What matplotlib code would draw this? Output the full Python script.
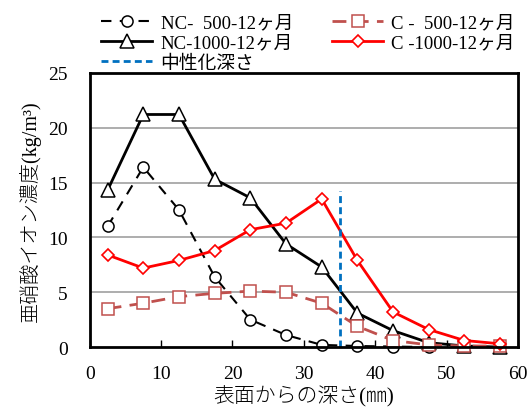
import numpy as np
import matplotlib
matplotlib.use("Agg")
import matplotlib.pyplot as plt

plt.rcParams['font.family'] = ['Liberation Serif', 'Noto Sans CJK JP']

# data (depth mm -> nitrite ion concentration kg/m3)
depth = [2.5, 7.5, 12.5, 17.5, 22.5, 27.5, 32.5, 37.5, 42.5, 47.5, 52.5, 57.5]
nc_500 = [11.0, 16.4, 12.5, 6.4, 2.5, 1.1, 0.2, 0.1, 0.05, 0.0]
nc_1000 = [14.3, 21.2, 21.2, 15.3, 13.6, 9.4, 7.3, 3.1, 1.5, 0.4, 0.1, 0.0]
c_500 = [3.5, 4.0, 4.6, 4.9, 5.1, 5.0, 4.0, 1.9, 0.6, 0.2, 0.1, 0.1]
c_1000 = [8.4, 7.2, 7.9, 8.8, 10.7, 11.3, 13.5, 7.9, 3.2, 1.6, 0.6, 0.3]
neutral_x = [35, 35]
neutral_y = [0, 14.2]

fig = plt.figure(figsize=(5.28, 4.10), dpi=100)
ax = fig.add_axes([0.170, 0.151, 0.811, 0.669])

for yv in [5, 10, 15, 20]:
    ax.axhline(yv, color='#a0a0a0', lw=1.2, zorder=0)

l1, = ax.plot(depth[:len(nc_500)], nc_500, color='black', lw=1.5, ls=(0, (5, 4)),
              marker='o', ms=8, mfc='white', mec='black', mew=1.1,
              label='NC-  500-12ヶ月', clip_on=False)
l2, = ax.plot(depth, nc_1000, color='black', lw=2, marker='^', ms=10,
              mfc='white', mec='black', mew=1.1, label='NC-1000-12ヶ月', clip_on=False)
l3, = ax.plot(depth, c_500, color='#C0504D', lw=2, ls=(0, (5, 3)), marker='s', ms=8,
              mfc='white', mec='#C0504D', mew=1.1, label='C -  500-12ヶ月', clip_on=False)
l4, = ax.plot(depth, c_1000, color='#FF0000', lw=2, marker='D', ms=6.5,
              mfc='white', mec='#FF0000', mew=1.2, label='C -1000-12ヶ月', clip_on=False)
l5, = ax.plot(neutral_x, neutral_y, color='#0070C0', lw=2, ls=(0, (2.5, 1.5)),
              label='中性化深さ')

ax.set_xlim(0, 60)
ax.set_ylim(0, 25)
ax.set_xticks(range(0, 61, 10))
ax.set_yticks(range(0, 26, 5))
ax.tick_params(axis='x', direction='in', length=5, width=1, labelsize=14, pad=13)
ax.tick_params(axis='y', length=0, labelsize=14, pad=16)
for s in ax.spines.values():
    s.set_linewidth(2)
    s.set_zorder(5)

ax.set_xlabel('表面からの深さ(㎜)', fontsize=15, fontweight='light', labelpad=2)
ax.set_ylabel('亜硝酸イオン濃度(kg/m³)', fontsize=14.5, fontweight='light', labelpad=5)

fig.legend(handles=[l1, l2, l5, l3, l4], ncol=2, loc='upper left',
           bbox_to_anchor=(0.178, 0.98), frameon=False, fontsize=13.5,
           handlelength=2.7, handletextpad=0.45, columnspacing=2.1,
           labelspacing=0.15, borderaxespad=0)

fig.savefig('out.png', dpi=100)
